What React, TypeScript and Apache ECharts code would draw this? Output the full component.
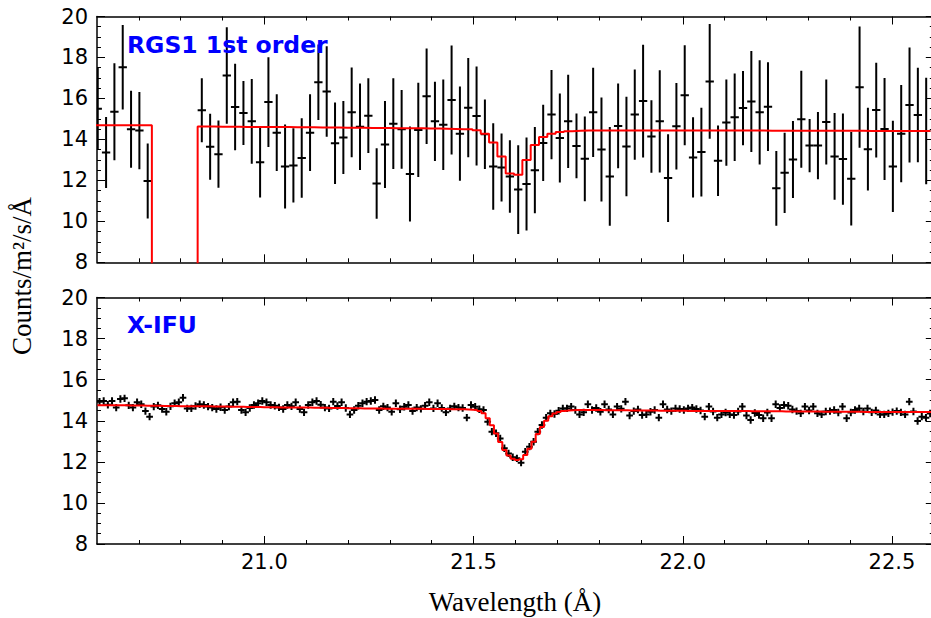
import React, { useEffect, useRef } from 'react';
import * as echarts from 'echarts';

// ---------- axis definitions ----------
const X_MIN = 20.6;
const X_MAX = 22.6;
const X_MAJOR_TICKS = [21.0, 21.5, 22.0, 22.5];
const X_MINOR_TICKS = [20.7, 20.8, 20.9, 21.1, 21.2, 21.3, 21.4, 21.6, 21.7, 21.8, 21.9, 22.1, 22.2, 22.3, 22.4];
const Y_MIN = 8;
const Y_MAX = 20;

// ---------- RGS1 1st order (top panel) ----------
// bin centres: first chip segment, then segment after the chip gap
const RGS_SEG1_START = 20.6018;
const RGS_SEG2_START = 20.8505;
const RGS_BIN = 0.0199;
const rgsSeg1Counts = [15.5, 13.36, 15.35, 17.52, 14.49, 14.43, 11.97];
const rgsSeg1Err = [2.0, 1.73, 2.37, 2.06, 1.88, 1.89, 1.83];
const rgsSeg1Model = [14.69, 14.69, 14.69, 14.69, 14.69, 14.69, 14.69];
const rgsSeg2Counts = [
  15.42, 13.64, 13.28, 17.12, 15.58, 15.29, 14.88, 12.89, 15.82, 14.33,
  12.68, 12.73, 13.09, 14.33, 16.79, 16.34, 13.81, 14.09, 15.32, 14.62,
  15.16, 11.85, 13.75, 14.77, 14.49, 12.31, 14.46, 16.11, 14.88, 14.72,
  15.92, 14.28, 15.55, 15.14, 14.25, 12.68, 12.63, 12.19, 11.55, 11.82,
  12.5, 13.83, 15.21, 14.07, 14.88, 13.68, 13.05, 15.32, 13.51, 12.19,
  14.66, 13.65, 15.21, 15.87, 14.14, 14.88, 12.11, 14.64, 16.16, 13.12,
  13.38, 16.83, 12.96, 14.82, 15.08, 15.53, 15.85, 15.32, 15.6, 11.61,
  12.37, 13.02, 14.98, 13.7, 13.7, 14.85, 13.17, 13.04, 12.08, 16.55,
  13.52, 15.43, 14.51, 12.68, 14.28, 15.68, 15.19, 14.41,
];
const rgsSeg2Err = [
  1.56, 1.61, 1.64, 2.36, 2.11, 1.56, 2.07, 1.73, 2.19, 1.87,
  2.05, 1.81, 1.94, 1.87, 1.84, 2.21, 1.99, 1.78, 2.19, 2.11,
  1.82, 1.72, 2.12, 2.22, 1.92, 2.32, 2.3, 2.33, 1.93, 2.21,
  2.66, 2.3, 2.42, 2.42, 1.7, 2.11, 1.66, 1.77, 2.17, 2.27,
  2.11, 1.86, 2.18, 2.17, 2.28, 1.58, 2.07, 2.18, 2.54, 2.41,
  2.07, 2.43, 2.2, 2.75, 1.77, 2.5, 2.14, 2.11, 2.44, 1.96,
  2.17, 2.8, 1.72, 2.11, 2.14, 1.81, 2.46, 2.55, 2.17, 1.82,
  1.96, 1.88, 2.37, 1.3, 1.64, 2.07, 2.12, 2.23, 2.28, 2.96,
  2.02, 2.31, 2.49, 2.23, 2.37, 2.81, 2.31, 2.6,
];
const rgsSeg2Model = [
  14.63, 14.63, 14.62, 14.62, 14.62, 14.61, 14.61, 14.61, 14.6, 14.6,
  14.6, 14.59, 14.59, 14.59, 14.58, 14.58, 14.58, 14.57, 14.57, 14.57,
  14.56, 14.56, 14.56, 14.55, 14.55, 14.54, 14.54, 14.53, 14.53, 14.52,
  14.51, 14.5, 14.49, 14.45, 14.27, 13.85, 13.17, 12.34, 12.28, 13.0,
  13.73, 14.12, 14.27, 14.36, 14.4, 14.42, 14.43, 14.44, 14.44, 14.44,
  14.44, 14.44, 14.44, 14.44, 14.44, 14.44, 14.44, 14.43, 14.43, 14.43,
  14.43, 14.43, 14.43, 14.43, 14.43, 14.43, 14.43, 14.43, 14.42, 14.42,
  14.42, 14.42, 14.42, 14.42, 14.42, 14.42, 14.42, 14.42, 14.42, 14.42,
  14.41, 14.41, 14.41, 14.41, 14.41, 14.41, 14.41, 14.41,
];

// ---------- X-IFU (bottom panel) ----------
const XIFU_START = 20.606;
const XIFU_BIN = 0.009976;
const XIFU_ERR = 0.18;
const xifuCounts = [
  14.93, 14.96, 14.78, 14.96, 14.64, 15.06, 15.09, 14.75, 14.64, 14.9,
  14.8, 14.47, 14.2, 14.69, 14.75, 14.57, 14.44, 14.7, 14.85, 14.9,
  15.12, 14.6, 14.6, 14.72, 14.8, 14.77, 14.69, 14.64, 14.57, 14.66,
  14.52, 14.69, 14.9, 14.93, 14.52, 14.41, 14.62, 14.77, 14.85, 14.96,
  14.9, 14.77, 14.73, 14.65, 14.57, 14.77, 14.7, 14.9, 14.57, 14.41,
  14.77, 14.9, 14.96, 14.78, 14.64, 14.6, 14.93, 14.72, 14.9, 14.62,
  14.31, 14.52, 14.73, 14.85, 14.93, 14.96, 15.01, 14.52, 14.7, 14.64,
  14.44, 14.85, 14.56, 14.68, 14.77, 14.47, 14.64, 14.58, 14.73, 14.9,
  14.6, 14.85, 14.62, 14.41, 14.6, 14.7, 14.64, 14.62, 14.15, 14.77,
  14.68, 14.56, 14.52, 13.95, 13.47, 13.39, 13.14, 12.66, 12.41, 12.22,
  12.17, 11.96, 12.49, 12.74, 12.98, 13.47, 13.79, 14.15, 14.36, 14.33,
  14.49, 14.6, 14.6, 14.69, 14.52, 14.31, 14.41, 14.8, 14.52, 14.62,
  14.44, 14.8, 14.55, 14.31, 14.69, 14.58, 14.93, 14.25, 14.47, 14.55,
  14.28, 14.31, 14.44, 14.52, 14.15, 14.8, 14.55, 14.47, 14.6, 14.57,
  14.52, 14.6, 14.64, 14.57, 14.5, 14.2, 14.69, 14.45, 14.15, 14.31,
  14.4, 14.31, 14.28, 14.45, 14.69, 14.25, 14.04, 14.38, 14.28, 14.12,
  14.4, 14.12, 14.8, 14.62, 14.77, 14.73, 14.55, 14.47, 14.36, 14.69,
  14.5, 14.69, 14.36, 14.31, 14.45, 14.47, 14.52, 14.4, 14.69, 14.12,
  14.4, 14.52, 14.6, 14.45, 14.6, 14.41, 14.5, 14.31, 14.31, 14.36,
  14.42, 14.47, 14.41, 14.31, 14.93, 14.45, 13.99, 14.2, 14.15, 14.35,
];
const xifuModel = [
  14.76, 14.76, 14.76, 14.75, 14.75, 14.75, 14.75, 14.74, 14.74, 14.74,
  14.74, 14.73, 14.73, 14.73, 14.73, 14.72, 14.72, 14.72, 14.72, 14.71,
  14.71, 14.71, 14.71, 14.7, 14.7, 14.7, 14.7, 14.69, 14.69, 14.69,
  14.69, 14.68, 14.68, 14.68, 14.68, 14.67, 14.67, 14.67, 14.67, 14.66,
  14.66, 14.66, 14.66, 14.65, 14.65, 14.65, 14.65, 14.64, 14.64, 14.64,
  14.64, 14.63, 14.63, 14.63, 14.63, 14.62, 14.62, 14.62, 14.62, 14.61,
  14.61, 14.61, 14.61, 14.6, 14.6, 14.6, 14.6, 14.6, 14.59, 14.59,
  14.59, 14.59, 14.59, 14.58, 14.58, 14.58, 14.58, 14.58, 14.57, 14.57,
  14.57, 14.57, 14.57, 14.57, 14.56, 14.56, 14.56, 14.56, 14.55, 14.54,
  14.52, 14.48, 14.36, 14.12, 13.78, 13.38, 12.96, 12.58, 12.31, 12.15,
  12.09, 12.13, 12.33, 12.64, 12.98, 13.35, 13.7, 14.0, 14.22, 14.35,
  14.43, 14.47, 14.5, 14.51, 14.52, 14.52, 14.52, 14.52, 14.52, 14.52,
  14.52, 14.51, 14.51, 14.51, 14.51, 14.51, 14.51, 14.5, 14.5, 14.5,
  14.5, 14.5, 14.5, 14.5, 14.49, 14.49, 14.49, 14.49, 14.49, 14.49,
  14.49, 14.48, 14.48, 14.48, 14.48, 14.48, 14.48, 14.48, 14.47, 14.47,
  14.47, 14.47, 14.47, 14.47, 14.47, 14.47, 14.46, 14.46, 14.46, 14.46,
  14.46, 14.46, 14.46, 14.46, 14.45, 14.45, 14.45, 14.45, 14.45, 14.45,
  14.45, 14.45, 14.45, 14.44, 14.44, 14.44, 14.44, 14.44, 14.44, 14.44,
  14.44, 14.44, 14.44, 14.43, 14.43, 14.43, 14.43, 14.43, 14.43, 14.43,
  14.43, 14.43, 14.43, 14.43, 14.42, 14.42, 14.42, 14.42, 14.42, 14.42,
];

// ---------- helpers ----------
function centres(start: number, step: number, n: number): number[] {
  const out: number[] = [];
  for (let i = 0; i < n; i++) out.push(start + step * i);
  return out;
}

function errorData(xs: number[], ys: number[], errs: number[] | number, half: number) {
  return xs.map((x, i) => [x, ys[i], Array.isArray(errs) ? errs[i] : errs, half]);
}

function stepData(xs: number[], ys: number[], half: number): number[][] {
  const out: number[][] = [];
  xs.forEach((x, i) => {
    out.push([x - half, ys[i]]);
    out.push([x + half, ys[i]]);
  });
  return out;
}

function renderErrorBar(params: any, api: any) {
  const x = api.value(0);
  const y = api.value(1);
  const e = api.value(2);
  const h = api.value(3);
  const top = api.coord([x, y + e]);
  const bot = api.coord([x, y - e]);
  const l = api.coord([x - h, y]);
  const r = api.coord([x + h, y]);
  const style = { stroke: '#000000', lineWidth: 2, fill: null };
  return {
    type: 'group',
    children: [
      { type: 'line', shape: { x1: top[0], y1: top[1], x2: bot[0], y2: bot[1] }, style },
      { type: 'line', shape: { x1: l[0], y1: l[1], x2: r[0], y2: r[1] }, style },
    ],
  };
}

const AXIS_COLOR = '#000000';

function xAxesFor(gridIndex: number, withLabels: boolean) {
  const common = {
    type: 'value',
    gridIndex,
    min: X_MIN,
    max: X_MAX,
    splitLine: { show: false },
  };
  const line = { show: true, onZero: false, lineStyle: { color: AXIS_COLOR, width: 1.5 } };
  const major = { show: true, inside: true, length: 8, customValues: X_MAJOR_TICKS, lineStyle: { color: AXIS_COLOR, width: 1 } };
  const minor = { show: true, inside: true, length: 4, customValues: X_MINOR_TICKS, lineStyle: { color: AXIS_COLOR, width: 1 } };
  const label = withLabels
    ? {
        show: true,
        customValues: X_MAJOR_TICKS,
        formatter: (v: number) => v.toFixed(1),
        fontSize: 21,
        fontFamily: 'DejaVu Sans',
        color: '#000000',
        margin: 7,
      }
    : { show: false };
  return [
    { ...common, position: 'bottom', axisLine: line, axisTick: major, axisLabel: label },
    { ...common, position: 'bottom', axisLine: { show: false }, axisTick: minor, axisLabel: { show: false } },
    { ...common, position: 'top', axisLine: line, axisTick: major, axisLabel: { show: false } },
    { ...common, position: 'top', axisLine: { show: false }, axisTick: minor, axisLabel: { show: false } },
  ];
}

function yAxesFor(gridIndex: number) {
  const common = {
    type: 'value',
    gridIndex,
    min: Y_MIN,
    max: Y_MAX,
    interval: 2,
    splitLine: { show: false },
    minorSplitLine: { show: false },
    axisLine: { show: true, onZero: false, lineStyle: { color: AXIS_COLOR, width: 1.5 } },
    axisTick: { show: true, inside: true, length: 8, lineStyle: { color: AXIS_COLOR, width: 1 } },
    minorTick: { show: true, splitNumber: 4, length: 4, lineStyle: { color: AXIS_COLOR, width: 1 } },
  };
  return [
    {
      ...common,
      position: 'left',
      axisLabel: {
        show: true,
        fontSize: 21,
        fontFamily: 'DejaVu Sans',
        color: '#000000',
        margin: 9,
        showMinLabel: true,
        showMaxLabel: true,
      },
    },
    { ...common, position: 'right', axisLabel: { show: false } },
  ];
}

function buildOption() {
  const rgsX1 = centres(RGS_SEG1_START, RGS_BIN, rgsSeg1Counts.length);
  const rgsX2 = centres(RGS_SEG2_START, RGS_BIN, rgsSeg2Counts.length);
  const xifuX = centres(XIFU_START, XIFU_BIN, xifuCounts.length);
  const half = RGS_BIN / 2;

  const rgsErr = [
    ...errorData(rgsX1, rgsSeg1Counts, rgsSeg1Err, half),
    ...errorData(rgsX2, rgsSeg2Counts, rgsSeg2Err, half),
  ];
  const seg1Step = stepData(rgsX1, rgsSeg1Model, half);
  const seg2Step = stepData(rgsX2, rgsSeg2Model, half);
  // chip gap: model drops to zero between the two segments
  const rgsModel = [
    ...seg1Step,
    [seg1Step[seg1Step.length - 1][0], 0],
    [seg2Step[0][0], 0],
    ...seg2Step,
  ];

  const xifuErr = errorData(xifuX, xifuCounts, XIFU_ERR, 0.008);
  const xifuStep = stepData(xifuX, xifuModel, XIFU_BIN / 2);

  const textFontTitle = 'bold 23.5px "DejaVu Sans"';
  const serif = '27px "Liberation Serif"';

  return {
    animation: false,
    backgroundColor: '#ffffff',
    grid: [
      { left: 97, top: 16.5, width: 836.8, height: 245.8, containLabel: false },
      { left: 97, top: 297.5, width: 836.8, height: 246.5, containLabel: false },
    ],
    xAxis: [...xAxesFor(0, false), ...xAxesFor(1, true)],
    yAxis: [...yAxesFor(0), ...yAxesFor(1)],
    series: [
      {
        type: 'custom',
        name: 'RGS1 data',
        xAxisIndex: 0,
        yAxisIndex: 0,
        renderItem: renderErrorBar,
        dimensions: ['x', 'y', 'err', 'half'],
        encode: { x: 0, y: 1 },
        data: rgsErr,
        clip: true,
        silent: true,
        z: 2,
      },
      {
        type: 'line',
        name: 'RGS1 model',
        xAxisIndex: 0,
        yAxisIndex: 0,
        data: rgsModel,
        symbol: 'none',
        showSymbol: false,
        lineStyle: { color: '#ff0000', width: 2 },
        clip: true,
        silent: true,
        z: 3,
      },
      {
        type: 'custom',
        name: 'X-IFU data',
        xAxisIndex: 4,
        yAxisIndex: 2,
        renderItem: renderErrorBar,
        dimensions: ['x', 'y', 'err', 'half'],
        encode: { x: 0, y: 1 },
        data: xifuErr,
        clip: true,
        silent: true,
        z: 2,
      },
      {
        type: 'line',
        name: 'X-IFU model',
        xAxisIndex: 4,
        yAxisIndex: 2,
        data: xifuStep,
        symbol: 'none',
        showSymbol: false,
        lineStyle: { color: '#ff0000', width: 2 },
        clip: true,
        silent: true,
        z: 3,
      },
    ],
    graphic: [
      {
        type: 'text',
        x: 127,
        y: 45,
        z: 10,
        style: { text: 'RGS1 1st order', fill: '#0000ff', font: textFontTitle, textAlign: 'left', textVerticalAlign: 'middle' },
      },
      {
        type: 'text',
        x: 127,
        y: 325,
        z: 10,
        style: { text: 'X-IFU', fill: '#0000ff', font: textFontTitle, textAlign: 'left', textVerticalAlign: 'middle' },
      },
      {
        type: 'text',
        x: 22,
        y: 276,
        rotation: Math.PI / 2,
        style: { text: 'Counts/m²/s/Å', fill: '#000000', font: serif, textAlign: 'center', textVerticalAlign: 'middle' },
      },
      {
        type: 'text',
        x: 515,
        y: 602,
        style: { text: 'Wavelength (Å)', fill: '#000000', font: serif, textAlign: 'center', textVerticalAlign: 'middle' },
      },
    ],
  };
}

export default function App() {
  const ref = useRef<HTMLDivElement>(null);
  useEffect(() => {
    if (!ref.current) return;
    const chart = echarts.init(ref.current, null, { renderer: 'svg' });
    chart.setOption(buildOption() as any);
    return () => {
      chart.dispose();
    };
  }, []);
  return (
    <div
      ref={ref}
      style={{ position: 'fixed', left: 0, top: 0, width: 940, height: 618, background: '#ffffff' }}
    />
  );
}
